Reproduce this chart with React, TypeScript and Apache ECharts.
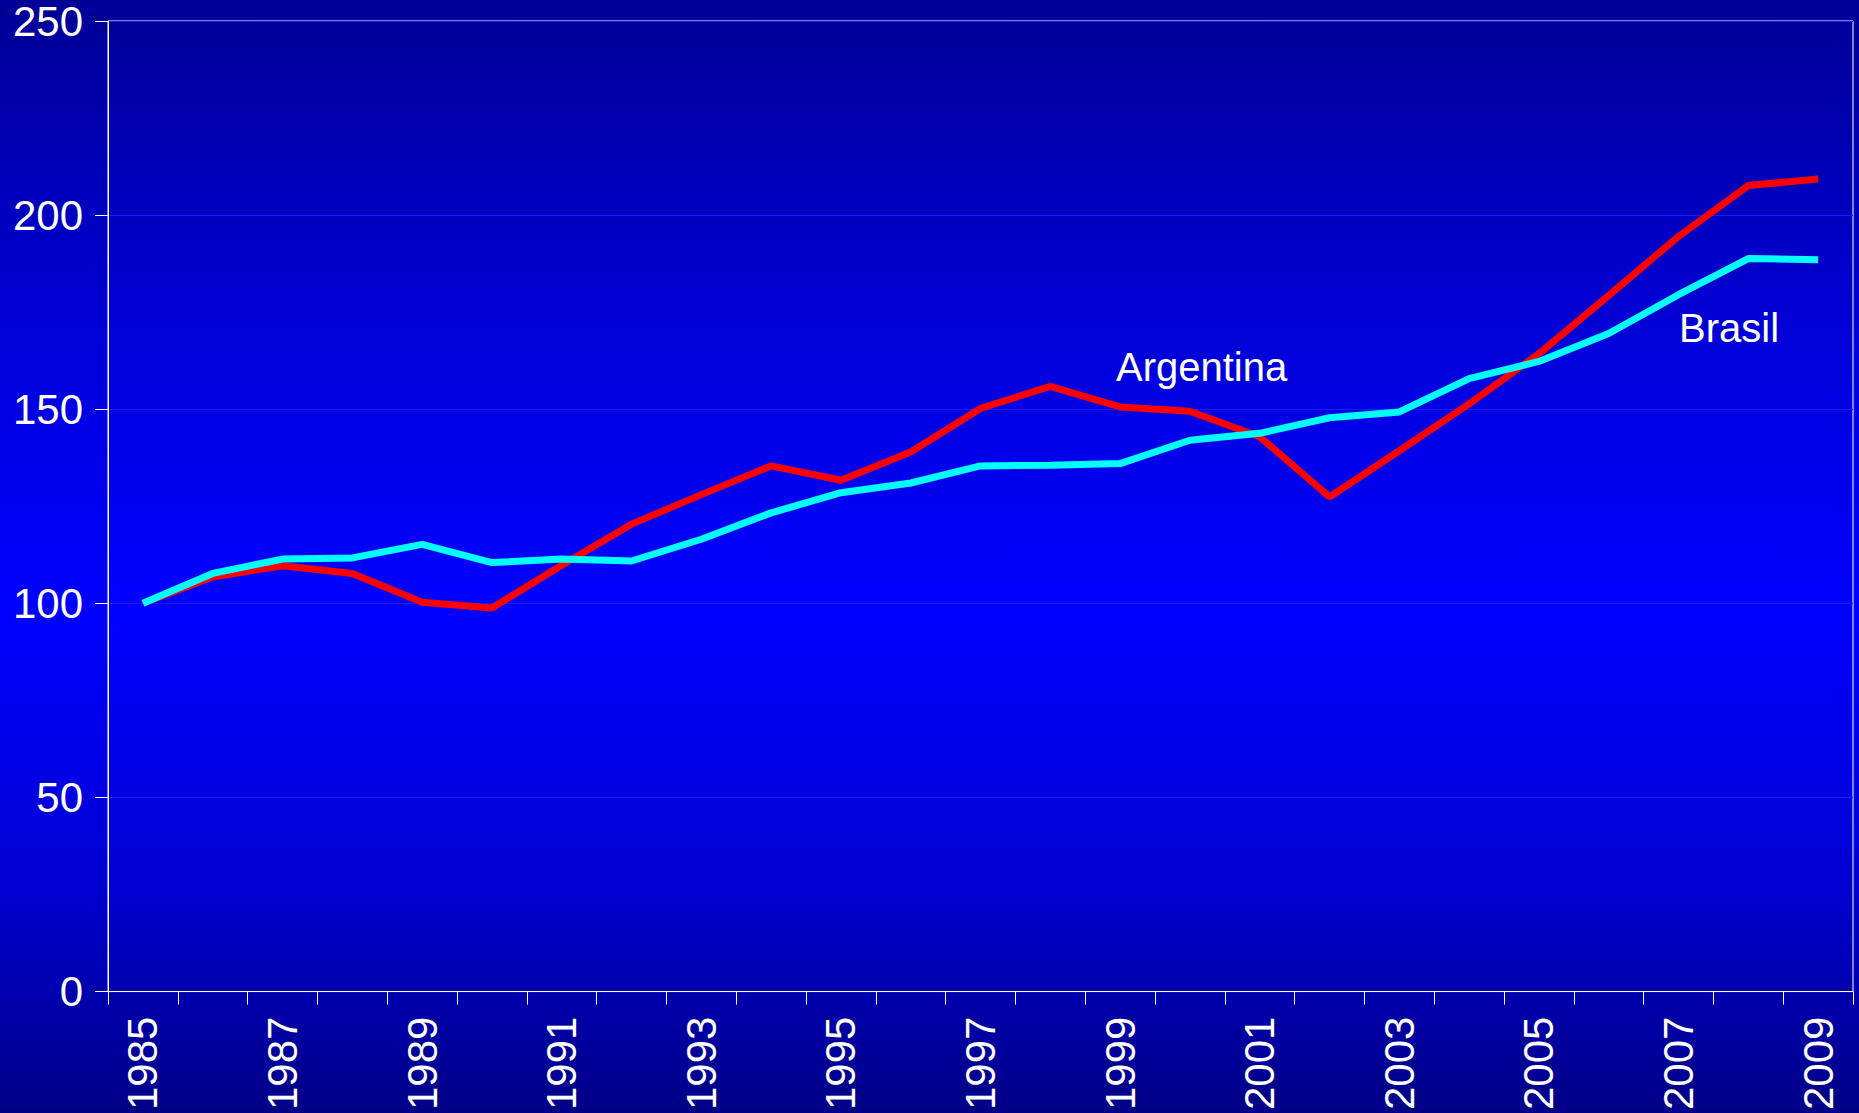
import React, { useEffect, useRef } from "react";
import * as echarts from "echarts";

const years = [
  "1985", "1986", "1987", "1988", "1989", "1990", "1991", "1992", "1993",
  "1994", "1995", "1996", "1997", "1998", "1999", "2000", "2001", "2002",
  "2003", "2004", "2005", "2006", "2007", "2008", "2009",
];

const argentina = [
  100, 106.8, 109.7, 107.7, 100.3, 98.8, 109.8, 120.4, 128.0, 135.4, 131.7,
  139.0, 150.2, 155.9, 150.6, 149.5, 142.9, 127.4, 139.3, 151.4, 164.3, 179.3,
  194.5, 207.6, 209.3,
];

const brasil = [
  100, 107.7, 111.4, 111.7, 115.2, 110.5, 111.4, 110.9, 116.5, 123.3, 128.5,
  131.0, 135.4, 135.6, 136.0, 142.0, 143.8, 147.8, 149.3, 157.9, 162.3, 169.5,
  179.5, 188.8, 188.5,
];

const FONT = "'Liberation Sans', Arial, Helvetica, sans-serif";

export default function App() {
  const ref = useRef<HTMLDivElement>(null);

  useEffect(() => {
    if (!ref.current) return;
    const chart = echarts.init(ref.current, undefined, { renderer: "svg" });
    chart.setOption({
      animation: false,
      backgroundColor: "transparent",
      textStyle: { fontFamily: FONT },
      grid: {
        left: 108,
        right: 6,
        top: 20,
        bottom: 118,
        show: true,
        borderColor: "#ffffff",
        borderWidth: 1,
        backgroundColor: "transparent",
      },
      xAxis: {
        type: "category",
        data: years,
        boundaryGap: true,
        axisLine: { show: true, lineStyle: { color: "#ffffff", width: 1 } },
        axisTick: {
          show: true,
          interval: 0,
          length: 13,
          lineStyle: { color: "#ffffff", width: 1 },
        },
        axisLabel: {
          interval: 1,
          rotate: 90,
          margin: 25,
          color: "#ffffff",
          fontSize: 42,
          fontFamily: FONT,
        },
        splitLine: { show: false },
      },
      yAxis: {
        type: "value",
        min: 0,
        max: 250,
        interval: 50,
        axisLine: { show: true, lineStyle: { color: "#ffffff", width: 1 } },
        axisTick: {
          show: true,
          length: 13,
          lineStyle: { color: "#ffffff", width: 1 },
        },
        axisLabel: {
          margin: 25,
          color: "#ffffff",
          fontSize: 42,
          fontFamily: FONT,
        },
        splitLine: { show: true, lineStyle: { color: "#1a1aff", width: 1 } },
      },
      series: [
        {
          name: "Argentina",
          type: "line",
          data: argentina,
          symbol: "none",
          lineStyle: { color: "#ff0000", width: 7 },
          itemStyle: { color: "#ff0000" },
          z: 2,
        },
        {
          name: "Brasil",
          type: "line",
          data: brasil,
          symbol: "none",
          lineStyle: { color: "#00ffff", width: 7 },
          itemStyle: { color: "#00ffff" },
          z: 3,
        },
      ],
      graphic: [
        {
          type: "text",
          x: 1116,
          y: 367,
          style: {
            text: "Argentina",
            fill: "#ffffff",
            font: `40px ${FONT}`,
            verticalAlign: "middle",
            align: "left",
          },
          z: 10,
        },
        {
          type: "text",
          x: 1679,
          y: 328,
          style: {
            text: "Brasil",
            fill: "#ffffff",
            font: `40px ${FONT}`,
            verticalAlign: "middle",
            align: "left",
          },
          z: 10,
        },
      ],
    });
    return () => chart.dispose();
  }, []);

  return (
    <div
      ref={ref}
      style={{
        position: "fixed",
        left: 0,
        top: 0,
        width: 1859,
        height: 1113,
        background:
          "linear-gradient(to bottom, #000096 0%, #0000d8 30%, #0000ff 55%, #0000d0 80%, #000086 100%)",
      }}
    />
  );
}
